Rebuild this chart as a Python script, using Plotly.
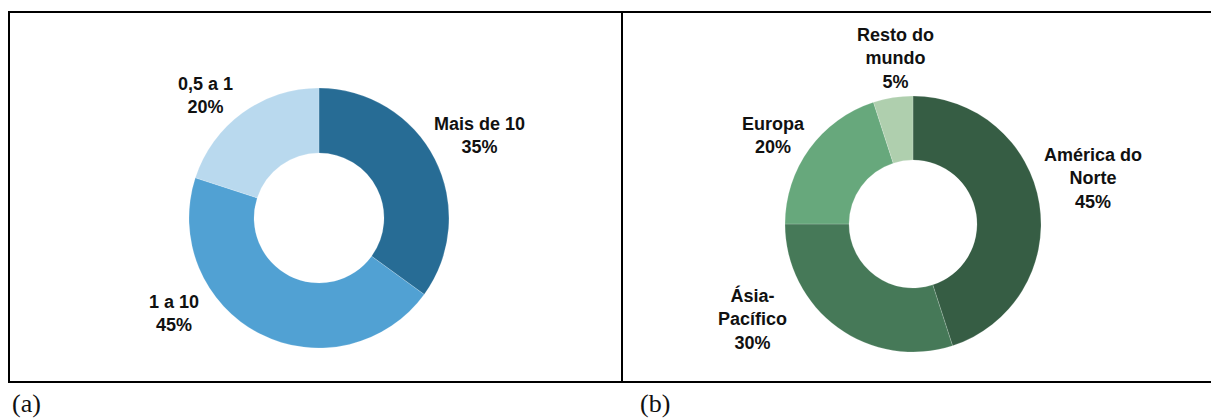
import plotly.graph_objects as go

# Panel (a): distribution by size class
size_labels = ["Mais de 10", "1 a 10", "0,5 a 1"]
size_values = [35, 45, 20]
size_colors = ["#276c95", "#51a1d3", "#b9d9ee"]

# Panel (b): distribution by region
region_labels = ["América do<br>Norte", "Ásia-<br>Pacífico", "Europa", "Resto do<br>mundo"]
region_values = [45, 30, 20, 5]
region_colors = ["#365d44", "#467958", "#67a87c", "#afcfae"]

W, H = 1211, 420


def px_x(x):
    return x / W


def px_y(y):
    return 1 - y / H


def domain(cx, cy, r):
    return dict(x=[px_x(cx - r), px_x(cx + r)], y=[px_y(cy + r), px_y(cy - r)])


fig = go.Figure()

fig.add_trace(go.Pie(
    labels=size_labels, values=size_values, sort=False, direction="clockwise",
    rotation=0, hole=0.5, textinfo="none", hoverinfo="label+percent",
    marker=dict(colors=size_colors, line=dict(color="rgba(255,255,255,0.35)", width=0.5)),
    domain=domain(319, 218, 130), showlegend=False,
))

fig.add_trace(go.Pie(
    labels=region_labels, values=region_values, sort=False, direction="clockwise",
    rotation=0, hole=0.5, textinfo="none", hoverinfo="label+percent",
    marker=dict(colors=region_colors, line=dict(color="rgba(255,255,255,0.35)", width=0.5)),
    domain=domain(913, 224, 128), showlegend=False,
))

label_font = dict(family="Liberation Sans, Arial, sans-serif", size=18, color="#111111")

# Label anchor points (pixel centres) for each slice label
size_label_pos = [(479, 136), (174, 313), (206, 96)]
region_label_pos = [(1093, 178), (752, 319), (773, 135), (895, 59)]

annotations = []
for lab, val, (x, y) in zip(size_labels, size_values, size_label_pos):
    annotations.append(dict(
        x=px_x(x), y=px_y(y), xref="paper", yref="paper", showarrow=False,
        text=f"<b>{lab}<br>{val}%</b>", font=label_font, align="center",
        xanchor="center", yanchor="middle",
    ))
for lab, val, (x, y) in zip(region_labels, region_values, region_label_pos):
    annotations.append(dict(
        x=px_x(x), y=px_y(y), xref="paper", yref="paper", showarrow=False,
        text=f"<b>{lab}<br>{val}%</b>", font=label_font, align="center",
        xanchor="center", yanchor="middle",
    ))

panel_font = dict(family="Liberation Serif, Times New Roman, serif", size=26, color="#111111")
annotations.append(dict(x=px_x(26), y=px_y(403), xref="paper", yref="paper", showarrow=False,
                        text="(a)", font=panel_font, xanchor="center", yanchor="middle"))
annotations.append(dict(x=px_x(655), y=px_y(403), xref="paper", yref="paper", showarrow=False,
                        text="(b)", font=panel_font, xanchor="center", yanchor="middle"))

line_style = dict(color="#000000", width=2)
shapes = [
    dict(type="line", xref="paper", yref="paper", x0=px_x(8), x1=1, y0=px_y(12), y1=px_y(12), line=line_style),
    dict(type="line", xref="paper", yref="paper", x0=px_x(8), x1=1, y0=px_y(382), y1=px_y(382), line=line_style),
    dict(type="line", xref="paper", yref="paper", x0=px_x(9), x1=px_x(9), y0=px_y(11), y1=px_y(383), line=line_style),
    dict(type="line", xref="paper", yref="paper", x0=px_x(622), x1=px_x(622), y0=px_y(11), y1=px_y(383), line=line_style),
]

fig.update_layout(
    width=W, height=H, margin=dict(l=0, r=0, t=0, b=0),
    paper_bgcolor="white", plot_bgcolor="white",
    annotations=annotations, shapes=shapes,
)

fig.write_html("out.html")
